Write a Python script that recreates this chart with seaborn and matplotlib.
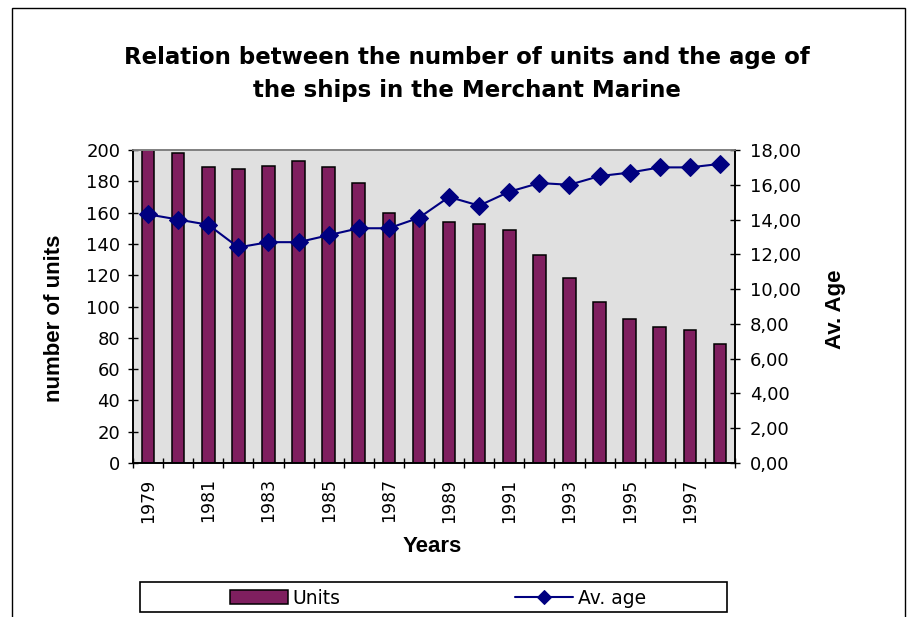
import numpy as np
import pandas as pd
import matplotlib
matplotlib.use("Agg")
import matplotlib.pyplot as plt
import seaborn as sns
from matplotlib.patches import Rectangle
from matplotlib.ticker import FixedLocator, FuncFormatter, NullFormatter

years = list(range(1979, 1999))
units = [200, 198, 189, 188, 190, 193, 189, 179, 160, 156,
         154, 153, 149, 133, 118, 103, 92, 87, 85, 76]
av_age = [14.3, 14.0, 13.7, 12.4, 12.7, 12.7, 13.1, 13.5, 13.5, 14.1,
          15.3, 14.8, 15.6, 16.1, 16.0, 16.5, 16.7, 17.0, 17.0, 17.2]

title_lines = ["Relation between the number of units and the age of",
               "the ships in the Merchant Marine"]
bar_color = "#7F1F5F"
line_color = "#000080"

sns.set_theme(style="white")
plt.rcParams["font.family"] = ["DejaVu Sans"]
for k in ("text.color", "axes.labelcolor", "xtick.color", "ytick.color"):
    plt.rcParams[k] = "black"

W, H = 913, 617
fig = plt.figure(figsize=(W / 100, H / 100), dpi=100)
L, R, T, B = 133, 735, 150, 463
ax = fig.add_axes([L / W, 1 - B / H, (R - L) / W, (B - T) / H])

df = pd.DataFrame({"Year": [str(y) for y in years], "Units": units, "Age": av_age})
sns.barplot(data=df, x="Year", y="Units", color=bar_color, width=0.42,
            edgecolor="black", linewidth=1.1, saturation=1, ax=ax, label="Units")
ax.set_facecolor("#E0E0E0")
ax.set_xlim(-0.5, len(years) - 0.5)
ax.set_ylim(0, 200)
ax.set_yticks(range(0, 201, 20))

ax2 = ax.twinx()
sns.lineplot(x=np.arange(len(years)), y=df["Age"], color=line_color, marker="D",
             markersize=9, markeredgecolor=line_color, linewidth=1.5, ax=ax2, label="Av. age")
ax2.set_ylim(0, 18)
ax2.set_yticks(np.arange(0, 18.1, 2))
ax2.yaxis.set_major_formatter(FuncFormatter(lambda v, p: f"{v:.2f}".replace(".", ",")))
ax2.set_xlim(-0.5, len(years) - 0.5)
ax2.set_ylabel("")

# x ticks at category boundaries, labels at centers every other year
ax.xaxis.set_major_locator(FixedLocator(np.arange(-0.5, len(years), 1.0)))
ax.xaxis.set_major_formatter(NullFormatter())
ax.set_xticks(np.arange(0, len(years), 2), minor=True)
ax.set_xticklabels([str(y) for y in years[::2]], minor=True, rotation=90, fontsize=12.5)
ax.tick_params(axis="x", which="major", direction="inout", length=7.5, width=1, color="black", bottom=True)
ax.tick_params(axis="x", which="minor", length=0, pad=11, bottom=True)
ax.tick_params(axis="y", direction="inout", length=7.5, width=1, color="black", labelsize=13, left=True, pad=5.5)
ax2.tick_params(axis="y", direction="inout", length=7.5, width=1, color="black", labelsize=13, right=True, pad=7)

for a in (ax, ax2):
    for s in ("left", "right", "bottom"):
        a.spines[s].set_color("black")
        a.spines[s].set_linewidth(1.2)
    a.spines["top"].set_color("#808080")
    a.spines["top"].set_linewidth(1.2)

ax.set_xlabel("")
ax.set_ylabel("")
lab_font = dict(family=["Liberation Sans", "DejaVu Sans"], fontsize=16, fontweight="bold")
fig.text(432 / W, 1 - 547 / H, "Years", ha="center", va="center", **lab_font)
fig.text(55 / W, 1 - 318 / H, "number of units", ha="center", va="center", rotation=90, **lab_font)
fig.text(835 / W, 1 - 309 / H, "Av. Age", ha="center", va="center", rotation=90, **lab_font)

# title
fig.text(467 / W, 1 - 64 / H, title_lines[0], ha="center", va="baseline",
         fontsize=16.5, fontweight="bold")
fig.text(467 / W, 1 - 97 / H, title_lines[1], ha="center", va="baseline",
         fontsize=16.5, fontweight="bold")

# legend
h1, l1 = ax.get_legend_handles_labels()
h2, l2 = ax2.get_legend_handles_labels()
for a in (ax, ax2):
    if a.get_legend():
        a.get_legend().remove()
fig.patches.append(Rectangle((140 / W, 1 - 612 / H), 587 / W, 30 / H, transform=fig.transFigure,
                             fill=True, facecolor="white", edgecolor="black", linewidth=1.2))
leg = fig.legend(h1 + h2, l1 + l2, ncol=2, loc="center left",
                 bbox_to_anchor=(230 / W, 1 - 598 / H), frameon=False,
                 fontsize=13.5, handlelength=3.1, handletextpad=0.25,
                 borderpad=0, borderaxespad=0, columnspacing=9.3, markerscale=0.8)

# outer chart border
fig.patches.append(Rectangle((12 / W, -0.02), (905 - 12) / W, 1 - 8 / H + 0.02,
                             transform=fig.transFigure, fill=False, edgecolor="black",
                             linewidth=1, zorder=-1))

fig.savefig("out.png", dpi=100)
